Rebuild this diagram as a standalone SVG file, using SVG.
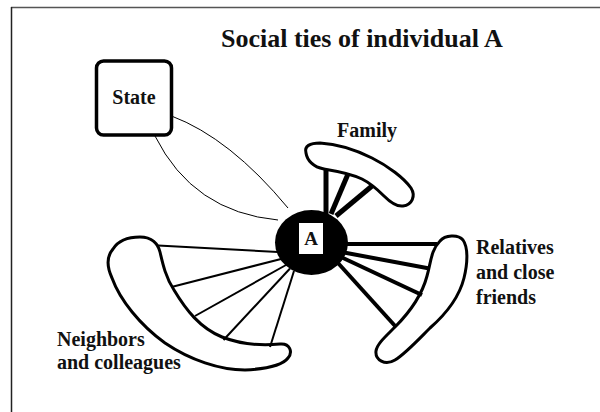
<svg xmlns="http://www.w3.org/2000/svg" width="600" height="412" viewBox="0 0 600 412">
<style>
text{font-family:"Liberation Serif","Times New Roman",serif;font-weight:bold;fill:#111}
.blob{fill:#fff;stroke:#000;stroke-width:3;stroke-linejoin:round}
.thin{fill:none;stroke:#000;stroke-width:1}
.nb{stroke:#000;stroke-width:2}
.fam{stroke:#000;stroke-width:5}
.rel{stroke:#000;stroke-width:4}
</style>
<rect width="600" height="412" fill="#fff"/>
<g id="frame">
<line x1="11" y1="7.5" x2="600" y2="7.5" stroke="#555" stroke-width="1.5"/>
<line x1="11.5" y1="7" x2="11.5" y2="412" stroke="#222" stroke-width="1.5"/>
</g>
<text id="title" x="221" y="47" font-size="26">Social ties of individual A</text>
<g id="state">
<rect x="96.5" y="61" width="75" height="74" rx="7" fill="#fff" stroke="#000" stroke-width="3.5"/>
<text x="134" y="104" font-size="20" text-anchor="middle">State</text>
</g>
<g id="family">
<path class="blob" d="M306,153 C304,146 310,143 320,143 C338,144 356,150 372,158 C388,166 404,178 411,188 C416,196 412,205 403,206 C396,207 390,202 384,196 C378,190 372,184 362,179 C350,173 336,171 324,169 C313,167 307,160 306,153 Z"/>
<text x="367" y="137" font-size="20" text-anchor="middle">Family</text>
</g>
<g id="neighbors">
<path class="blob" d="M113,249 C118,241 128,237 140,237 C152,237 158,244 160,252 C163,265 166,278 174,290 C186,310 200,328 222,337 C240,344 260,346 280,344 C290,343 293,352 288,358 C282,366 265,369 245,370 C220,370 190,360 165,343 C140,325 120,300 112,278 C106,265 107,256 113,249 Z"/>
<text x="57" y="346" font-size="20">Neighbors</text>
<text x="57" y="369" font-size="20">and colleagues</text>
</g>
<g id="relatives">
<path class="blob" d="M440,241 C445,235 458,234 463,240 C468,247 468,262 464,278 C459,298 446,314 430,328 C418,340 405,354 395,360 C385,366 375,360 376,351 C377,344 385,337 395,327 C410,312 422,295 427,276 C431,262 431,250 440,241 Z"/>
<text x="476" y="254" font-size="20">Relatives</text>
<text x="476" y="279" font-size="20">and close</text>
<text x="476" y="304" font-size="20">friends</text>
</g>
<g id="connectors">
<path class="thin" d="M171.5,116 Q230,138 288,208"/>
<path class="thin" d="M155,136 Q193,212 278,220"/>
<line class="fam" x1="326" y1="169" x2="326" y2="214"/>
<line class="fam" x1="348" y1="174" x2="331" y2="214"/>
<line class="fam" x1="372" y1="186" x2="336" y2="216"/>
<line class="nb" x1="158" y1="245.5" x2="278" y2="252"/>
<line class="nb" x1="171.5" y1="287" x2="281" y2="259"/>
<line class="nb" x1="195" y1="316" x2="286" y2="265"/>
<line class="nb" x1="223.5" y1="340" x2="290" y2="268.5"/>
<line class="nb" x1="270" y1="347" x2="294" y2="271"/>
<line class="rel" x1="345" y1="244" x2="437" y2="244"/>
<line class="rel" x1="344" y1="252.5" x2="429.5" y2="268.5"/>
<line class="rel" x1="342" y1="257.5" x2="422" y2="295"/>
<line class="rel" x1="338" y1="263" x2="396" y2="327"/>
</g>
<g id="A">
<ellipse cx="311.5" cy="242.5" rx="36.5" ry="32.5" fill="#000"/>
<rect x="299" y="223" width="24" height="31" fill="#fff"/>
<text x="311" y="245" font-size="19" text-anchor="middle">A</text>
</g>
</svg>
